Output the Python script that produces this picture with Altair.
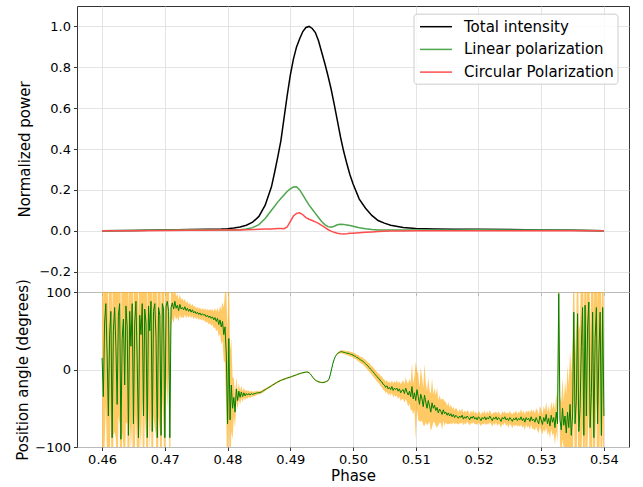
import altair as alt
import numpy as np
import pandas as pd

# ---------------- top panel data ----------------
top_phase = [0.460, 0.465, 0.470, 0.474, 0.477, 0.479, 0.480, 0.481, 0.482, 0.483,
             0.484, 0.485, 0.486, 0.487, 0.4875, 0.488, 0.4885, 0.489, 0.4895, 0.490,
             0.4905, 0.491, 0.4915, 0.492, 0.4925, 0.493, 0.4935, 0.494, 0.4945, 0.495,
             0.4955, 0.496, 0.4965, 0.497, 0.4975, 0.498, 0.4985, 0.499, 0.4995, 0.500,
             0.501, 0.502, 0.503, 0.504, 0.505, 0.506, 0.508, 0.510, 0.513, 0.516,
             0.520, 0.525, 0.530, 0.535, 0.540]
total_intensity = [0.0, 0.001, 0.003, 0.006, 0.007, 0.008, 0.010, 0.013, 0.018, 0.027,
                   0.042, 0.07, 0.125, 0.215, 0.285, 0.36, 0.44, 0.55, 0.66, 0.76,
                   0.84, 0.90, 0.94, 0.975, 0.995, 1.0, 0.99, 0.97, 0.93, 0.875,
                   0.82, 0.76, 0.695, 0.62, 0.54, 0.46, 0.39, 0.33, 0.275, 0.23,
                   0.155, 0.11, 0.075, 0.05, 0.037, 0.027, 0.016, 0.011, 0.008, 0.007,
                   0.007, 0.006, 0.004, 0.002, 0.0]
linear_pol = [0.0, 0.001, 0.003, 0.005, 0.005, 0.004, 0.004, 0.004, 0.005, 0.008,
              0.015, 0.03, 0.06, 0.1, 0.12, 0.14, 0.158, 0.175, 0.192, 0.205,
              0.214, 0.215, 0.2, 0.175, 0.15, 0.125, 0.105, 0.085, 0.065, 0.045,
              0.03, 0.02, 0.017, 0.022, 0.029, 0.032, 0.031, 0.028, 0.025, 0.022,
              0.015, 0.01, 0.006, 0.004, 0.003, 0.003, 0.003, 0.003, 0.004, 0.004,
              0.005, 0.004, 0.003, 0.002, 0.0]
circular_pol = [0.0, 0.0, 0.001, 0.002, 0.002, 0.003, 0.003, 0.004, 0.004, 0.005,
                0.006, 0.007, 0.008, 0.009, 0.01, 0.011, 0.011, 0.01, 0.018, 0.045,
                0.072, 0.085, 0.088, 0.078, 0.064, 0.056, 0.05, 0.043, 0.036, 0.026,
                0.016, 0.006, -0.002, -0.008, -0.012, -0.015, -0.016, -0.015, -0.013, -0.012,
                -0.01, -0.008, -0.006, -0.004, -0.003, -0.002, -0.001, 0.0, 0.0, 0.0,
                0.0, 0.0, 0.0, 0.0, 0.0]
series_names = ["Total intensity", "Linear polarization", "Circular Polarization"]
series_colors = ["#000000", "#4da64d", "#ff4d4d"]

# ---------------- bottom panel data ----------------
pa_phase = np.round(0.46 + 0.0002 * np.arange(401), 4)
pa_deg = [
    15, -35, 60, 85, 20, -60, 45, 75, -88, 50,
    80, 30, -45, 70, 85, -90, 40, 65, -20, 82,
    55, -85, 75, 30, 85, -70, 60, 88, 10, -88,
    70, 45, 85, -60, 78, 60, -88, 82, 50, 88,
    -80, 75, 85, 40, -88, 80, 70, -85, 85, 78,
    -88, 82, 88, 75, -88, 80, 86, 78, 88, 79,
    83, 76, 84, 78, 80, 77, 81, 76, 79, 75,
    78, 74, 77, 73, 75, 72, 74, 71, 73, 70,
    72, 70, 71, 68, 70, 67, 69, 66, 68, 64,
    67, 62, 66, 58, 64, 55, 62, 45, 55, 20,
    -70, 40, -65, -20, -50, -36, -55, -25, -40, -28,
    -36, -29, -35, -30, -34, -31, -33, -31, -33, -31,
    -32, -31.5, -31, -30.5, -30, -30, -29.5, -29, -28, -27,
    -26, -25, -24, -23, -22, -21, -20, -19, -18, -17,
    -16, -15.2, -14.4, -13.7, -13.1, -12.5, -11.9, -11.3, -10.8, -10.3,
    -9.8, -9.2, -8.6, -8, -7.4, -6.8, -6.2, -5.6, -5.1, -4.6,
    -4.2, -3.8, -3.5, -3.3, -3.4, -4.2, -5.8, -8, -10.3, -12.2,
    -13.6, -14.7, -15.5, -16.1, -16.5, -16.8, -16.8, -16.5, -16, -15.3,
    -14.5, -12, -6, 1, 8, 13, 17, 19.5, 21, 22,
    22.8, 23, 22.5, 22, 21.8, 21, 21, 20.5, 19.5, 19.5,
    18.5, 17.5, 17, 15.5, 15, 13.5, 12.5, 11.5, 10.5, 9,
    7.5, 6, 4, 2.5, 0.5, -1, -3, -5, -7, -9,
    -11, -12, -15, -16, -19, -20, -23, -21, -25, -23,
    -26, -22, -27, -24, -26, -24, -28, -25, -30, -27,
    -26, -31, -24, -29, -33, -28, -35, -22, -38, -30,
    -40, -26, -35, -45, -32, -38, -48, -33, -42, -50,
    -40, -47, -55, -43, -50, -46, -53, -49, -56, -51,
    -54, -58, -52, -57, -55, -59, -56, -60, -57, -61,
    -58, -62, -59, -61, -63, -60, -62, -59, -64, -61,
    -63, -60, -62, -65, -61, -63, -60, -64, -62, -65,
    -61, -63, -66, -62, -64, -61, -65, -62, -64, -60,
    -63, -66, -62, -64, -61, -65, -62, -64, -67, -62,
    -64, -61, -65, -63, -66, -62, -64, -67, -63, -65,
    -62, -66, -63, -65, -61, -66, -63, -68, -62, -65,
    -63, -67, -61, -66, -64, -68, -62, -66, -70, -60,
    -65, -71, -62, -67, -58, -70, -63, -73, -59, -68,
    -62, -75, -55, -70, 98, -65, -78, -50, -72, -60,
    -82, -55, -75, -45, -85, -60, 74, -70, -40, 72,
    -80, -50, 30, 80, -85, 83, -60, 55, 87, -75,
    -30, 74, -88, 40, 80, -70, 20, 74, -85, 80,
    -60,
]
pa_err = [
    150, 120, 160, 130, 140, 110, 170, 125, 150, 135,
    160, 120, 145, 130, 155, 140, 120, 165, 130, 150,
    125, 160, 140, 135, 150, 120, 165, 145, 130, 155,
    140, 150, 125, 160, 135, 145, 150, 130, 155, 140,
    150, 135, 160, 125, 145, 140, 150, 130, 120, 155,
    110, 90, 140, 70, 130, 25, 20, 18, 18, 15,
    15, 14, 13, 12, 12, 11, 10, 10, 9, 9,
    8, 8, 8, 8, 7, 7, 7, 7, 7, 7,
    7, 7, 8, 8, 8, 9, 9, 10, 10, 11,
    12, 13, 14, 16, 18, 22, 25, 35, 45, 80,
    120, 100, 90, 60, 40, 25, 20, 15, 12, 10,
    9, 8, 7, 6, 6, 5, 5, 4, 4, 4,
    3, 3, 3, 2.5, 2.5, 2, 2, 2, 2, 2,
    1.8, 1.6, 1.5, 1.5, 1.4, 1.5, 1.4, 1.3, 1.4, 1.3,
    1.3, 1.2, 1.3, 1.2, 1.2, 1.1, 1.2, 1.1, 1.1, 1.0,
    1.0, 1.0, 1.0, 0.9, 0.9, 0.9, 0.9, 0.8, 0.8, 0.8,
    0.8, 0.8, 0.8, 0.8, 0.8, 0.8, 0.8, 0.8, 0.8, 0.8,
    0.8, 0.8, 0.9, 0.9, 0.9, 0.9, 0.9, 0.9, 0.9, 0.9,
    0.9, 0.9, 0.8, 0.8, 0.8, 0.8, 0.9, 1.0, 1.2, 1.5,
    2, 2, 2, 2.5, 2.5, 2.5, 3, 3, 3, 3,
    3, 3.5, 3.5, 3.5, 4, 4, 4, 4.5, 4.5, 4.5,
    5, 5, 5, 5.5, 5.5, 5.5, 6, 6, 6, 6,
    6, 6.5, 6.5, 7, 7, 7, 7.5, 7.5, 8, 8,
    8, 8, 9, 9, 9, 10, 10, 10, 11, 11,
    12, 12, 14, 13, 15, 16, 18, 30, 20, 22,
    50, 25, 30, 22, 35, 28, 24, 40, 26, 22,
    30, 20, 24, 32, 18, 22, 20, 26, 16, 18,
    15, 20, 14, 16, 13, 12, 14, 11, 12, 10,
    10, 9, 10, 9, 8, 9, 8, 9, 8, 8,
    8, 7, 8, 7, 8, 7, 8, 7, 8, 7,
    7, 8, 7, 8, 7, 8, 7, 8, 7, 8,
    7, 8, 7, 8, 7, 8, 8, 7, 8, 8,
    8, 7, 8, 8, 9, 8, 8, 9, 8, 9,
    9, 8, 9, 9, 10, 9, 10, 10, 9, 10,
    10, 11, 10, 11, 12, 11, 12, 13, 12, 13,
    14, 13, 15, 14, 16, 15, 17, 16, 18, 17,
    20, 22, 25, 24, 90, 30, 35, 40, 30, 45,
    50, 60, 55, 70, 80, 100, 110, 90, 100, 120,
    130, 110, 140, 150, 120, 160, 130, 150, 140, 120,
    150, 130, 160, 140, 120, 150, 160, 140, 130, 150,
    120,
]

x_ticks = [0.46, 0.47, 0.48, 0.49, 0.50, 0.51, 0.52, 0.53, 0.54]
top_y_ticks = [-0.2, 0.0, 0.2, 0.4, 0.6, 0.8, 1.0]
pa_ticks = [-100, -50, 0, 50, 100]

# ---------------- build frames ----------------
rows = []
for k, (name, vals) in enumerate(zip(series_names, [total_intensity, linear_pol, circular_pol])):
    for p, v in zip(top_phase, vals):
        rows.append({"phase": p, "value": v, "series": name, "k": k})
top_df = pd.DataFrame(rows)

pa_df = pd.DataFrame({"phase": pa_phase, "pa": pa_deg, "err": pa_err})
pa_df["lo"] = pa_df["pa"] - pa_df["err"]
pa_df["hi"] = pa_df["pa"] + pa_df["err"]

xscale = alt.Scale(domain=[0.456, 0.544], nice=False, zero=False)
W = 552

top = alt.Chart(top_df).mark_line(strokeWidth=1.5, clip=True).encode(
    x=alt.X("phase:Q", scale=xscale,
            axis=alt.Axis(values=x_ticks, labels=False, title=None)),
    y=alt.Y("value:Q", scale=alt.Scale(domain=[-0.3, 1.1], nice=False),
            axis=alt.Axis(values=top_y_ticks, format=".1f", title="Normalized power",
                          labelPadding=3, tickSize=3.5, offset=0, minExtent=0,
                          titlePadding=6)),
    color=alt.Color("series:N",
                    scale=alt.Scale(domain=series_names, range=series_colors),
                    legend=alt.Legend(orient="none", legendX=336.5, legendY=7.7,
                                      title=None, symbolType="M-0.72,0H2.83", symbolSize=324,
                                      symbolStrokeWidth=1.5, labelFontSize=15,
                                      labelFont="DejaVu Sans", labelColor="#000",
                                      fillColor="rgba(255,255,255,0.8)",
                                      strokeColor="#cccccc", cornerRadius=3,
                                      padding=3, rowPadding=4.7, labelOffset=27.5)),
    detail="k:N",
).properties(width=W, height=286)

band = alt.Chart(pa_df).mark_area(color="orange", opacity=0.6, clip=True).encode(
    x=alt.X("phase:Q", scale=xscale,
            axis=alt.Axis(values=x_ticks, format=".2f", title="Phase", titlePadding=2)),
    y=alt.Y("lo:Q", scale=alt.Scale(domain=[-100, 100], nice=False),
            axis=alt.Axis(values=pa_ticks, title="Position angle (degrees)",
                          labelPadding=3, tickSize=3.5, offset=0, minExtent=0,
                          titlePadding=4)),
    y2="hi:Q",
)
pa_line = alt.Chart(pa_df).mark_line(color="green", strokeWidth=1, clip=True).encode(
    x=alt.X("phase:Q", scale=xscale),
    y=alt.Y("pa:Q", scale=alt.Scale(domain=[-100, 100], nice=False)),
)
bottom = alt.layer(band, pa_line).properties(width=W, height=155)

chart = alt.vconcat(top, bottom, spacing=0, bounds="flush").configure(
    padding={"left": 15, "top": 5, "right": 5, "bottom": 0},
    font="DejaVu Sans",
).configure_view(
    stroke="#333333", strokeWidth=1
).configure_axis(
    labelFont="DejaVu Sans", labelFontSize=13, labelColor="#000000",
    titleFont="DejaVu Sans", titleFontSize=15, titleFontWeight="normal",
    titleColor="#000000", tickColor="#000000", tickSize=3.5, tickWidth=0.8,
    labelPadding=3, titlePadding=5, domain=False,
    gridColor="#dddddd", gridWidth=0.8,
)

chart.save("out.html", embed_options={"renderer": "svg", "actions": False})
